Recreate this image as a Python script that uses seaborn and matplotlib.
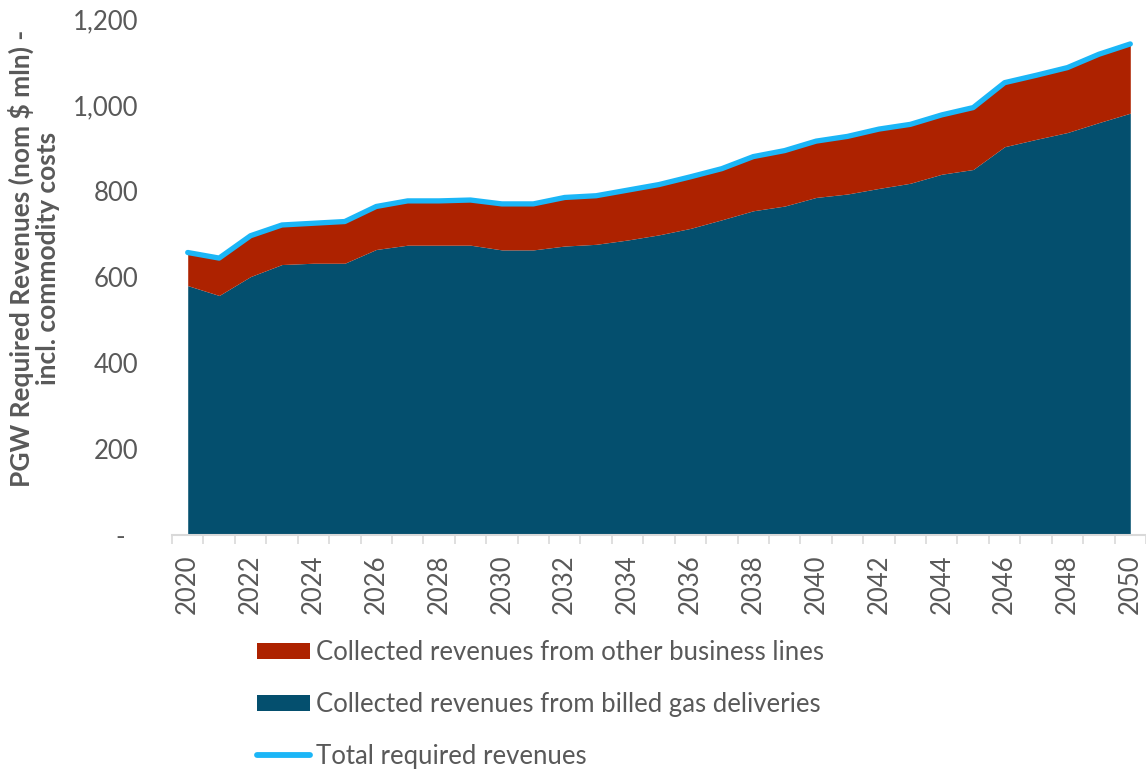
import numpy as np
import pandas as pd
import matplotlib
matplotlib.use("Agg")
import matplotlib.pyplot as plt
from matplotlib.patches import Patch
from matplotlib.lines import Line2D
from matplotlib.ticker import FixedLocator, FuncFormatter
import seaborn as sns

# ---- data (nominal $ mln) ----
years = list(range(2020, 2051))
total_required = [657, 644, 696, 721, 725, 729, 764, 777, 777, 779,
                  770, 770, 785, 789, 802, 815, 833, 852, 880, 894,
                  916, 927, 944, 955, 977, 994, 1052, 1069, 1087, 1118,
                  1142]
billed_gas = [580, 557, 601, 629, 632, 632, 664, 674, 674, 674,
              663, 663, 672, 676, 686, 698, 713, 733, 754, 765,
              785, 793, 806, 818, 839, 850, 903, 920, 936, 959,
              981]
other_lines = [t - b for t, b in zip(total_required, billed_gas)]

labels = ["Collected revenues from other business lines",
          "Collected revenues from billed gas deliveries",
          "Total required revenues"]

C_BILLED = "#044f6e"
C_OTHER = "#ad2200"
C_TOTAL = "#1bb6f7"
C_TEXT = "#595959"
C_AXIS = "#d9d9d9"

df = pd.DataFrame({"year": years, "billed": billed_gas,
                   "other": other_lines, "total": total_required})

sns.set_theme(style="white")
plt.rcParams["font.family"] = ["Lato", "DejaVu Sans"]

W, H = 1146, 771
fig = plt.figure(figsize=(W / 100, H / 100), dpi=100)
ax = fig.add_axes([172 / W, 1 - 535 / H, (1146 - 172) / W, (535 - 19) / H])

# stacked areas
ax.fill_between(df["year"], 0, df["billed"], color=C_BILLED, lw=0)
ax.fill_between(df["year"], df["billed"], df["billed"] + df["other"],
                color=C_OTHER, lw=0)
# total line
sns.lineplot(data=df, x="year", y="total", ax=ax, color=C_TOTAL,
             linewidth=3.8, solid_capstyle="round", clip_on=False,
             legend=False, zorder=5)

ax.set_xlim(2019.5, 2050.5)
ax.set_ylim(0, 1200)

# axes styling
for s in ["top", "right", "left"]:
    ax.spines[s].set_visible(False)
ax.spines["bottom"].set_color(C_AXIS)
ax.spines["bottom"].set_linewidth(1.5)

# x: labels every two years, tick marks between categories
ax.xaxis.set_major_locator(FixedLocator(years[::2]))
ax.set_xticklabels([str(y) for y in years[::2]], rotation=90)
ax.xaxis.set_minor_locator(FixedLocator(np.arange(2019.5, 2051, 1.0)))
ax.tick_params(axis="x", which="major", length=0, pad=14,
               labelsize=18.5, labelcolor=C_TEXT)
ax.tick_params(axis="x", which="minor", length=6.5, width=1.2,
               color=C_AXIS, bottom=True, direction="out")

# y: accounting-style numbers
ax.set_yticks([0, 200, 400, 600, 800, 1000, 1200])
ax.yaxis.set_major_formatter(FuncFormatter(
    lambda v, p: "-  " if v == 0 else f"{int(v):,}"))
ax.tick_params(axis="y", length=0, pad=24, labelsize=18.5,
               labelcolor=C_TEXT)
ax.set_xlabel("")
ax.set_ylabel("")

fig.text(34 / W, 1 - 258 / H,
         "PGW Required Revenues (nom $ mln) -\nincl. commodity costs",
         rotation=90, ha="center", va="center", multialignment="center",
         fontsize=19, fontweight="bold", color=C_TEXT, linespacing=1.1)

handles = [Patch(facecolor=C_OTHER, edgecolor="none"),
           Patch(facecolor=C_BILLED, edgecolor="none"),
           Line2D([0], [0], color=C_TOTAL, lw=4.2, solid_capstyle="round")]
leg = fig.legend(handles, labels, loc="upper left",
                 bbox_to_anchor=(257 / W, 1 - 640 / H),
                 frameon=False, fontsize=18.5, labelcolor=C_TEXT,
                 handlelength=2.05, handleheight=0.62, handletextpad=0.23,
                 labelspacing=1.05, borderpad=0, borderaxespad=0)

fig.savefig("out.png", dpi=100)
